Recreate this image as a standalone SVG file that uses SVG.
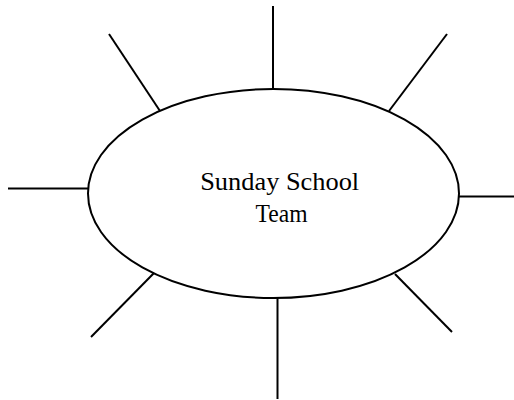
<svg xmlns="http://www.w3.org/2000/svg" width="514" height="400" viewBox="0 0 514 400">
<style>
.ln{stroke:#000;stroke-width:2;fill:none;stroke-linecap:butt}
.el{stroke:#000;stroke-width:2;fill:#fff}
.tx{font-family:"Liberation Serif","Times New Roman",serif;font-size:25px;fill:#000;text-anchor:middle}
</style>
<rect width="514" height="400" fill="#fff"/>
<g id="connectors">
<line class="ln" x1="273" y1="6" x2="273" y2="89"/>
<line class="ln" x1="447" y1="34" x2="389" y2="111"/>
<line class="ln" x1="459" y1="196.5" x2="514" y2="196.5"/>
<line class="ln" x1="452" y1="332" x2="395" y2="274"/>
<line class="ln" x1="277.5" y1="298" x2="277.5" y2="399"/>
<line class="ln" x1="91" y1="337" x2="154" y2="273"/>
<line class="ln" x1="8" y1="188.5" x2="89" y2="188.5"/>
<line class="ln" x1="109" y1="34" x2="160" y2="111"/>
</g>
<g id="node-team">
<ellipse class="el" cx="273.5" cy="193.5" rx="185.5" ry="104.5" fill="none" style="fill:none"/>
<text class="tx" x="279.7" y="189.5" textLength="159" lengthAdjust="spacingAndGlyphs">Sunday School</text>
<text class="tx" x="281.5" y="221.5" textLength="52" lengthAdjust="spacingAndGlyphs">Team</text>
</g>
</svg>
